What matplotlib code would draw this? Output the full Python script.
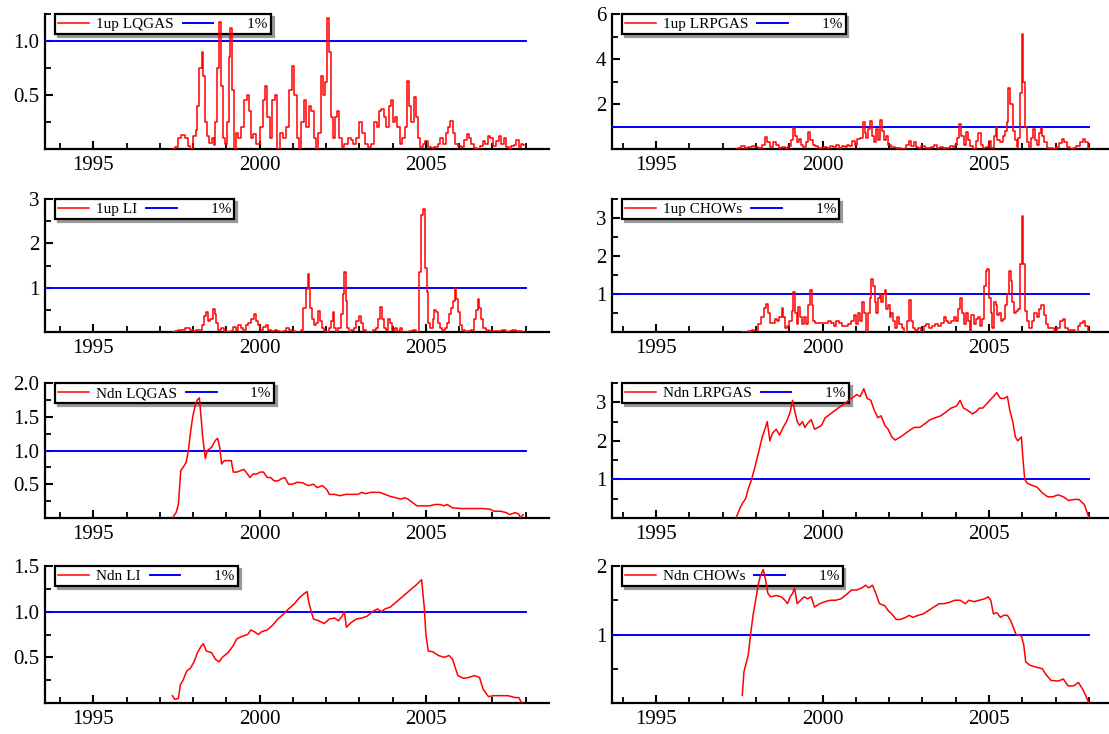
import matplotlib
matplotlib.use("Agg")
import matplotlib.pyplot as plt
from matplotlib.ticker import FixedLocator, FormatStrFormatter

plt.rcParams['font.family'] = ['Liberation Serif', 'DejaVu Serif']

# ---------------- data ----------------
crit_level = 1.0
crit_start, crit_end = 1993.5, 2008.0
x_major = [1995, 2000, 2005]
x_minor = list(range(1994, 2009))

# 1up LQGAS
t_1up_lqgas = [1997.40, 1997.50, 1997.60, 1997.70, 1997.80, 1997.87, 1997.95, 1998.05, 1998.10, 1998.15,
               1998.23, 1998.28, 1998.33, 1998.38, 1998.45, 1998.52, 1998.60, 1998.65, 1998.70, 1998.75,
               1998.82, 1998.87, 1998.93, 1999.00, 1999.05, 1999.10, 1999.15, 1999.20, 1999.25, 1999.33,
               1999.40, 1999.50, 1999.57, 1999.65, 1999.70, 1999.77, 1999.85, 1999.95, 2000.05, 2000.13,
               2000.20, 2000.27, 2000.35, 2000.42, 2000.50, 2000.57, 2000.65, 2000.75, 2000.83, 2000.93,
               2001.00, 2001.07, 2001.15, 2001.20, 2001.30, 2001.37, 2001.45, 2001.52, 2001.60, 2001.67,
               2001.73, 2001.80, 2001.87, 2001.93, 2002.00, 2002.05, 2002.11, 2002.17, 2002.23, 2002.30,
               2002.37, 2002.43, 2002.50, 2002.60, 2002.70, 2002.77, 2002.85, 2002.95, 2003.05, 2003.13,
               2003.20, 2003.30, 2003.40, 2003.48, 2003.55, 2003.63, 2003.70, 2003.77, 2003.85, 2003.93,
               2004.00, 2004.05, 2004.10, 2004.17, 2004.25, 2004.33, 2004.40, 2004.47, 2004.53, 2004.60,
               2004.67, 2004.73, 2004.80, 2004.87, 2004.95, 2005.02, 2005.10, 2005.20, 2005.30, 2005.40,
               2005.47, 2005.55, 2005.63, 2005.70, 2005.77, 2005.83, 2005.90, 2006.00, 2006.10, 2006.20,
               2006.25, 2006.33, 2006.40, 2006.50, 2006.60, 2006.67, 2006.75, 2006.83, 2006.90, 2006.97,
               2007.05, 2007.15, 2007.23, 2007.30, 2007.37, 2007.45, 2007.53, 2007.60, 2007.67, 2007.75,
               2007.83, 2007.90, 2007.95]
v_1up_lqgas = [0.0, 0.02, 0.1, 0.13, 0.1, 0.03, 0.0, 0.12, 0.18, 0.4,
               0.75, 0.9, 0.68, 0.25, 0.12, 0.06, 0.1, 0.04, 0.25, 0.75,
               1.18, 0.58, 0.1, 0.05, 0.25, 0.85, 1.12, 0.55, 0.0, 0.15,
               0.1, 0.2, 0.45, 0.5, 0.35, 0.1, 0.14, 0.05, 0.2, 0.45,
               0.58, 0.3, 0.1, 0.45, 0.5, 0.0, 0.15, 0.1, 0.2, 0.55,
               0.77, 0.5, 0.1, 0.0, 0.25, 0.45, 0.2, 0.4, 0.35, 0.1,
               0.0, 0.15, 0.68, 0.5, 0.62, 1.21, 0.9, 0.3, 0.1, 0.3,
               0.35, 0.1, 0.02, 0.05, 0.1, 0.08, 0.05, 0.1, 0.25, 0.15,
               0.05, 0.02, 0.05, 0.25, 0.2, 0.35, 0.37, 0.3, 0.2, 0.4,
               0.45, 0.25, 0.3, 0.2, 0.05, 0.1, 0.2, 0.63, 0.4, 0.25,
               0.48, 0.3, 0.1, 0.02, 0.05, 0.07, 0.02, 0.01, 0.02, 0.05,
               0.1, 0.05, 0.15, 0.2, 0.26, 0.15, 0.05, 0.03, 0.02, 0.08,
               0.14, 0.1, 0.05, 0.01, 0.0, 0.03, 0.07, 0.05, 0.12, 0.1,
               0.03, 0.07, 0.12, 0.05, 0.1, 0.02, 0.0, 0.03, 0.04, 0.08,
               0.02, 0.05, 0.04]

# 1up LRPGAS
t_1up_lrpgas = [1997.42, 1997.52, 1997.60, 1997.72, 1997.82, 1997.92, 1998.02, 1998.12, 1998.22, 1998.32,
                1998.37, 1998.47, 1998.57, 1998.64, 1998.72, 1998.82, 1998.92, 1999.02, 1999.10, 1999.15,
                1999.20, 1999.27, 1999.32, 1999.37, 1999.47, 1999.54, 1999.60, 1999.67, 1999.74, 1999.82,
                1999.90, 2000.00, 2000.07, 2000.17, 2000.27, 2000.37, 2000.44, 2000.52, 2000.62, 2000.70,
                2000.77, 2000.84, 2000.92, 2001.00, 2001.07, 2001.17, 2001.24, 2001.29, 2001.34, 2001.40,
                2001.47, 2001.52, 2001.57, 2001.64, 2001.70, 2001.76, 2001.82, 2001.88, 2001.94, 2002.02,
                2002.12, 2002.22, 2002.32, 2002.42, 2002.57, 2002.62, 2002.70, 2002.77, 2002.84, 2002.92,
                2003.02, 2003.12, 2003.22, 2003.32, 2003.40, 2003.47, 2003.57, 2003.67, 2003.77, 2003.87,
                2003.95, 2004.02, 2004.08, 2004.14, 2004.20, 2004.27, 2004.34, 2004.40, 2004.47, 2004.57,
                2004.64, 2004.72, 2004.79, 2004.87, 2004.97, 2005.04, 2005.10, 2005.17, 2005.22, 2005.28,
                2005.37, 2005.44, 2005.50, 2005.55, 2005.60, 2005.65, 2005.70, 2005.74, 2005.80, 2005.85,
                2005.90, 2005.95, 2006.00, 2006.05, 2006.10, 2006.17, 2006.22, 2006.30, 2006.34, 2006.40,
                2006.47, 2006.52, 2006.57, 2006.62, 2006.70, 2006.77, 2006.87, 2006.97, 2007.07, 2007.14,
                2007.22, 2007.30, 2007.37, 2007.47, 2007.57, 2007.67, 2007.77, 2007.84, 2007.92, 2008.00]
v_1up_lrpgas = [0.0, 0.05, 0.15, 0.05, 0.1, 0.15, 0.1, 0.05, 0.2, 0.55,
                0.3, 0.1, 0.33, 0.2, 0.05, 0.1, 0.05, 0.15, 0.4, 0.95,
                0.6, 0.3, 0.45, 0.2, 0.1, 0.3, 0.77, 0.4, 0.2, 0.15,
                0.05, 0.05, 0.1, 0.05, 0.15, 0.1, 0.2, 0.05, 0.15, 0.1,
                0.2, 0.15, 0.35, 0.2, 0.45, 0.5, 1.2, 0.7, 0.5, 0.9,
                1.25, 0.6, 0.3, 0.9, 0.4, 1.3, 0.8, 0.4, 0.6, 0.2,
                0.1, 0.05, 0.05, 0.02, 0.2, 0.35, 0.15, 0.3, 0.1, 0.05,
                0.15, 0.05, 0.03, 0.1, 0.2, 0.05, 0.1, 0.05, 0.03, 0.15,
                0.1, 0.2, 0.5, 1.1, 0.6, 0.2, 0.77, 0.4, 0.15, 0.02,
                0.35, 0.7, 0.2, 0.05, 0.1, 0.35, 0.05, 0.6, 1.0, 0.4,
                0.3, 0.6, 0.8, 1.2, 2.7, 2.0, 2.0, 0.8, 0.4, 0.1,
                0.5, 2.5, 5.1, 3.0, 1.0, 0.3, 0.1, 0.5, 0.9, 0.4,
                0.2, 0.7, 0.95, 0.6, 0.3, 0.05, 0.05, 0.02, 0.1, 0.25,
                0.45, 0.3, 0.1, 0.02, 0.05, 0.15, 0.3, 0.45, 0.3, 0.05]

# 1up LI
t_1up_li = [1997.40, 1997.50, 1997.60, 1997.70, 1997.80, 1997.87, 1997.95, 1998.05, 1998.15, 1998.25,
            1998.30, 1998.37, 1998.43, 1998.48, 1998.55, 1998.62, 1998.68, 1998.73, 1998.80, 1998.90,
            1998.97, 1999.05, 1999.15, 1999.25, 1999.33, 1999.40, 1999.47, 1999.55, 1999.63, 1999.70,
            1999.80, 1999.87, 1999.93, 2000.00, 2000.05, 2000.15, 2000.23, 2000.30, 2000.40, 2000.50,
            2000.57, 2000.65, 2000.75, 2000.85, 2000.93, 2001.00, 2001.10, 2001.20, 2001.27, 2001.33,
            2001.38, 2001.43, 2001.47, 2001.51, 2001.55, 2001.60, 2001.67, 2001.73, 2001.80, 2001.85,
            2001.92, 2001.98, 2002.05, 2002.12, 2002.17, 2002.23, 2002.27, 2002.32, 2002.40, 2002.47,
            2002.53, 2002.57, 2002.61, 2002.65, 2002.72, 2002.80, 2002.87, 2002.95, 2003.01, 2003.07,
            2003.15, 2003.25, 2003.35, 2003.45, 2003.53, 2003.60, 2003.65, 2003.70, 2003.77, 2003.83,
            2003.90, 2003.95, 2004.02, 2004.10, 2004.17, 2004.25, 2004.33, 2004.45, 2004.55, 2004.65,
            2004.73, 2004.83, 2004.88, 2004.95, 2005.00, 2005.05, 2005.10, 2005.17, 2005.23, 2005.27,
            2005.33, 2005.40, 2005.45, 2005.53, 2005.60, 2005.67, 2005.73, 2005.80, 2005.85, 2005.89,
            2005.93, 2005.98, 2006.05, 2006.12, 2006.20, 2006.30, 2006.40, 2006.47, 2006.53, 2006.58,
            2006.63, 2006.68, 2006.75, 2006.85, 2006.95, 2007.05, 2007.15, 2007.25, 2007.35, 2007.45,
            2007.55, 2007.65, 2007.75, 2007.85, 2007.95]
v_1up_li = [0.0, 0.02, 0.05, 0.05, 0.08, 0.1, 0.05, 0.02, 0.05, 0.05,
            0.15, 0.35, 0.44, 0.25, 0.3, 0.52, 0.4, 0.2, 0.05, 0.1,
            0.02, 0.0, 0.02, 0.12, 0.05, 0.15, 0.1, 0.05, 0.15, 0.2,
            0.3, 0.4, 0.25, 0.15, 0.05, 0.12, 0.15, 0.05, 0.02, 0.05,
            0.02, 0.0, 0.02, 0.1, 0.05, 0.02, 0.0, 0.01, 0.05, 0.55,
            0.55, 0.98, 1.3, 1.0, 0.55, 0.3, 0.15, 0.2, 0.48, 0.25,
            0.1, 0.02, 0.0, 0.1, 0.25, 0.45, 0.1, 0.0, 0.1, 0.4,
            0.85, 1.35, 0.7, 0.1, 0.0, 0.05, 0.1, 0.25, 0.36, 0.2,
            0.05, 0.01, 0.0, 0.05, 0.1, 0.3, 0.56, 0.3, 0.1, 0.05,
            0.3, 0.2, 0.05, 0.1, 0.02, 0.1, 0.0, 0.0, 0.02, 0.05,
            0.0, 1.35, 2.65, 2.78, 1.45, 0.9, 0.2, 0.1, 0.3, 0.5,
            0.45, 0.2, 0.1, 0.05, 0.1, 0.2, 0.4, 0.55, 0.7, 1.0,
            0.75, 0.45, 0.15, 0.05, 0.0, 0.02, 0.05, 0.3, 0.5, 0.74,
            0.55, 0.3, 0.1, 0.05, 0.02, 0.02, 0.02, 0.03, 0.05, 0.0,
            0.02, 0.05, 0.03, 0.02, 0.0]

# 1up CHOWs
t_1up_chows = [1997.57, 1997.72, 1997.82, 1997.92, 1998.02, 1998.12, 1998.20, 1998.27, 1998.32, 1998.38,
               1998.44, 1998.52, 1998.60, 1998.67, 1998.74, 1998.80, 1998.85, 1998.90, 1998.97, 1999.04,
               1999.10, 1999.15, 1999.20, 1999.25, 1999.30, 1999.35, 1999.40, 1999.47, 1999.54, 1999.60,
               1999.65, 1999.70, 1999.75, 1999.82, 1999.92, 2000.02, 2000.12, 2000.22, 2000.30, 2000.37,
               2000.44, 2000.52, 2000.62, 2000.72, 2000.82, 2000.90, 2000.97, 2001.02, 2001.10, 2001.17,
               2001.22, 2001.27, 2001.32, 2001.39, 2001.44, 2001.49, 2001.54, 2001.59, 2001.64, 2001.69,
               2001.74, 2001.79, 2001.84, 2001.89, 2001.94, 2001.99, 2002.04, 2002.09, 2002.14, 2002.19,
               2002.27, 2002.34, 2002.42, 2002.50, 2002.57, 2002.62, 2002.67, 2002.74, 2002.82, 2002.92,
               2003.00, 2003.07, 2003.17, 2003.24, 2003.32, 2003.42, 2003.52, 2003.60, 2003.67, 2003.74,
               2003.82, 2003.90, 2003.97, 2004.04, 2004.10, 2004.16, 2004.22, 2004.27, 2004.34, 2004.40,
               2004.44, 2004.50, 2004.57, 2004.62, 2004.70, 2004.77, 2004.82, 2004.87, 2004.92, 2004.97,
               2005.02, 2005.07, 2005.12, 2005.17, 2005.22, 2005.27, 2005.32, 2005.37, 2005.44, 2005.50,
               2005.57, 2005.62, 2005.67, 2005.72, 2005.77, 2005.82, 2005.89, 2005.95, 2006.00, 2006.05,
               2006.10, 2006.17, 2006.24, 2006.32, 2006.39, 2006.47, 2006.54, 2006.60, 2006.67, 2006.74,
               2006.82, 2006.92, 2007.00, 2007.07, 2007.17, 2007.24, 2007.32, 2007.42, 2007.52, 2007.62,
               2007.70, 2007.77, 2007.84, 2007.92, 2008.00]
v_1up_chows = [0.0, 0.0, 0.03, 0.05, 0.05, 0.2, 0.4, 0.63, 0.75, 0.5,
               0.25, 0.25, 0.35, 0.3, 0.4, 0.62, 0.4, 0.1, 0.15, 0.3,
               0.55, 1.05, 0.5, 0.2, 0.65, 0.4, 0.2, 0.4, 0.2, 0.7,
               1.1, 0.7, 0.3, 0.25, 0.25, 0.25, 0.25, 0.3, 0.25, 0.15,
               0.3, 0.25, 0.15, 0.15, 0.2, 0.3, 0.45, 0.2, 0.5, 0.3,
               0.8, 0.5, 0.0, 0.5, 0.9, 1.4, 1.2, 0.8, 0.5, 0.9,
               1.0, 0.8, 1.0, 1.1, 0.6, 0.7, 0.4, 0.5, 0.3, 0.1,
               0.4, 0.2, 0.1, 0.0, 0.3, 0.85, 0.3, 0.1, 0.05, 0.1,
               0.0, 0.15, 0.2, 0.1, 0.15, 0.2, 0.15, 0.25, 0.4, 0.3,
               0.25, 0.3, 0.4, 0.3, 0.6, 0.9, 0.5, 0.2, 0.5, 0.3,
               0.0, 0.45, 0.2, 0.35, 0.4, 0.15, 0.35, 1.2, 1.6, 1.65,
               0.9, 0.5, 0.1, 0.8, 0.7, 0.45, 0.5, 0.3, 0.35, 0.7,
               1.0, 1.6, 1.35, 0.8, 0.5, 0.55, 0.6, 1.8, 3.05, 1.8,
               0.55, 0.3, 0.1, 0.3, 0.5, 0.4, 0.6, 0.7, 0.45, 0.2,
               0.1, 0.1, 0.05, 0.1, 0.3, 0.35, 0.1, 0.05, 0.05, 0.0,
               0.15, 0.25, 0.3, 0.15, 0.0]

# Ndn LQGAS
t_ndn_lqgas = [1997.38, 1997.49, 1997.56, 1997.63, 1997.70, 1997.79, 1997.86, 1997.92, 1997.99, 1998.08,
               1998.13, 1998.19, 1998.24, 1998.29, 1998.37, 1998.43, 1998.56, 1998.67, 1998.74, 1998.80,
               1998.86, 1998.94, 1999.05, 1999.15, 1999.21, 1999.31, 1999.42, 1999.53, 1999.64, 1999.71,
               1999.80, 1999.91, 2000.01, 2000.12, 2000.23, 2000.33, 2000.44, 2000.55, 2000.65, 2000.76,
               2000.87, 2000.98, 2001.14, 2001.30, 2001.46, 2001.62, 2001.73, 2001.89, 2002.02, 2002.10,
               2002.26, 2002.42, 2002.59, 2002.80, 2002.96, 2003.07, 2003.18, 2003.34, 2003.61, 2003.77,
               2003.93, 2004.09, 2004.25, 2004.36, 2004.46, 2004.62, 2004.73, 2004.95, 2005.11, 2005.27,
               2005.43, 2005.54, 2005.64, 2005.80, 2006.07, 2006.39, 2006.72, 2006.93, 2007.04, 2007.25,
               2007.41, 2007.52, 2007.68, 2007.79, 2007.84, 2007.92]
v_ndn_lqgas = [0.0, 0.08, 0.2, 0.7, 0.75, 0.82, 1.0, 1.25, 1.5, 1.7,
               1.75, 1.78, 1.5, 1.2, 0.88, 1.0, 1.05, 1.15, 1.18, 1.05,
               0.8, 0.85, 0.85, 0.85, 0.68, 0.68, 0.7, 0.72, 0.65, 0.6,
               0.65, 0.65, 0.68, 0.68, 0.6, 0.6, 0.55, 0.55, 0.58, 0.6,
               0.5, 0.5, 0.53, 0.52, 0.48, 0.5, 0.45, 0.48, 0.42, 0.35,
               0.35, 0.33, 0.35, 0.35, 0.35, 0.38, 0.36, 0.38, 0.38, 0.35,
               0.32, 0.3, 0.28, 0.3, 0.28, 0.22, 0.18, 0.18, 0.18, 0.2,
               0.2, 0.18, 0.2, 0.15, 0.14, 0.14, 0.14, 0.13, 0.1, 0.1,
               0.08, 0.05, 0.08, 0.06, 0.0, 0.05]

# Ndn LRPGAS
t_ndn_lrpgas = [1997.40, 1997.45, 1997.52, 1997.61, 1997.69, 1997.77, 1997.87, 1997.98, 1998.08, 1998.19,
                1998.27, 1998.34, 1998.42, 1998.50, 1998.61, 1998.71, 1998.82, 1998.92, 1999.03, 1999.10,
                1999.16, 1999.24, 1999.31, 1999.40, 1999.47, 1999.55, 1999.66, 1999.76, 1999.87, 1999.97,
                2000.08, 2000.24, 2000.39, 2000.55, 2000.71, 2000.87, 2001.03, 2001.13, 2001.24, 2001.34,
                2001.45, 2001.55, 2001.66, 2001.76, 2001.87, 2001.97, 2002.08, 2002.18, 2002.34, 2002.50,
                2002.66, 2002.76, 2002.92, 2003.08, 2003.23, 2003.39, 2003.55, 2003.71, 2003.86, 2004.02,
                2004.13, 2004.23, 2004.34, 2004.50, 2004.60, 2004.71, 2004.81, 2004.92, 2005.02, 2005.13,
                2005.23, 2005.34, 2005.44, 2005.55, 2005.62, 2005.71, 2005.79, 2005.86, 2005.97, 2006.02,
                2006.07, 2006.15, 2006.28, 2006.44, 2006.60, 2006.76, 2006.91, 2007.07, 2007.23, 2007.39,
                2007.54, 2007.70, 2007.86, 2008.00]
v_ndn_lrpgas = [0.0, 0.1, 0.25, 0.4, 0.5, 0.75, 1.0, 1.35, 1.7, 2.1,
                2.3, 2.5, 2.0, 2.2, 2.3, 2.15, 2.35, 2.5, 2.75, 3.05,
                2.8, 2.5, 2.4, 2.5, 2.35, 2.45, 2.55, 2.3, 2.35, 2.4,
                2.6, 2.7, 2.8, 2.9, 3.0, 3.1, 3.2, 3.15, 3.35, 3.1,
                3.05, 2.8, 2.6, 2.65, 2.4, 2.3, 2.1, 2.02, 2.1, 2.2,
                2.3, 2.35, 2.35, 2.45, 2.55, 2.6, 2.65, 2.75, 2.85, 2.9,
                3.05, 2.85, 2.8, 2.7, 2.75, 2.85, 2.85, 2.95, 3.05, 3.15,
                3.25, 3.1, 3.1, 3.15, 2.8, 2.5, 2.1, 2.0, 2.1, 1.5,
                1.0, 0.9, 0.85, 0.8, 0.65, 0.55, 0.55, 0.6, 0.55, 0.45,
                0.48, 0.48, 0.35, 0.0]

# Ndn LI
t_ndn_li = [1997.38, 1997.45, 1997.56, 1997.62, 1997.70, 1997.81, 1997.92, 1998.03, 1998.13, 1998.24,
            1998.31, 1998.40, 1998.56, 1998.67, 1998.78, 1998.88, 1999.05, 1999.21, 1999.31, 1999.47,
            1999.64, 1999.74, 1999.85, 1999.96, 2000.06, 2000.23, 2000.39, 2000.55, 2000.71, 2000.87,
            2001.03, 2001.19, 2001.35, 2001.43, 2001.48, 2001.57, 2001.62, 2001.78, 2001.94, 2002.10,
            2002.26, 2002.37, 2002.48, 2002.55, 2002.61, 2002.75, 2002.91, 2003.07, 2003.23, 2003.39,
            2003.55, 2003.66, 2003.77, 2003.93, 2004.09, 2004.25, 2004.41, 2004.57, 2004.73, 2004.87,
            2004.95, 2005.00, 2005.07, 2005.21, 2005.38, 2005.54, 2005.70, 2005.80, 2005.96, 2006.13,
            2006.29, 2006.45, 2006.61, 2006.72, 2006.88, 2007.04, 2007.25, 2007.47, 2007.68, 2007.79,
            2007.88]
v_ndn_li = [0.08, 0.04, 0.05, 0.2, 0.25, 0.35, 0.38, 0.45, 0.55, 0.62,
            0.65, 0.57, 0.55, 0.48, 0.45, 0.5, 0.55, 0.63, 0.7, 0.73,
            0.75, 0.8, 0.78, 0.75, 0.78, 0.8, 0.85, 0.92, 0.97, 1.03,
            1.08, 1.15, 1.2, 1.22, 1.1, 0.98, 0.92, 0.9, 0.87, 0.92,
            0.93, 0.9, 0.95, 1.0, 0.83, 0.88, 0.92, 0.93, 0.95, 1.0,
            1.03, 1.0, 1.03, 1.05, 1.1, 1.15, 1.2, 1.25, 1.3, 1.35,
            1.05, 0.75, 0.57, 0.56, 0.52, 0.5, 0.52, 0.48, 0.3, 0.27,
            0.28, 0.3, 0.28, 0.15, 0.07, 0.08, 0.08, 0.08, 0.06, 0.06,
            0.0]

# Ndn CHOWs
t_ndn_chows = [1997.59, 1997.64, 1997.69, 1997.77, 1997.84, 1997.92, 1998.01, 1998.08, 1998.13, 1998.22,
               1998.29, 1998.36, 1998.45, 1998.61, 1998.76, 1998.87, 1998.95, 1999.03, 1999.10, 1999.16,
               1999.24, 1999.34, 1999.45, 1999.55, 1999.66, 1999.76, 1999.92, 2000.08, 2000.24, 2000.39,
               2000.55, 2000.71, 2000.87, 2001.03, 2001.18, 2001.29, 2001.39, 2001.50, 2001.60, 2001.71,
               2001.87, 2001.97, 2002.08, 2002.21, 2002.34, 2002.50, 2002.60, 2002.71, 2002.87, 2003.02,
               2003.18, 2003.34, 2003.50, 2003.65, 2003.81, 2003.97, 2004.13, 2004.29, 2004.39, 2004.55,
               2004.71, 2004.86, 2004.97, 2005.05, 2005.13, 2005.23, 2005.34, 2005.44, 2005.55, 2005.65,
               2005.81, 2005.97, 2006.04, 2006.10, 2006.23, 2006.44, 2006.60, 2006.70, 2006.86, 2007.07,
               2007.23, 2007.37, 2007.54, 2007.68, 2007.81, 2007.91, 2007.99]
v_ndn_chows = [0.11, 0.45, 0.55, 0.7, 1.0, 1.3, 1.55, 1.75, 1.85, 1.95,
               1.8, 1.6, 1.55, 1.57, 1.55, 1.5, 1.45, 1.55, 1.6, 1.68,
               1.45, 1.5, 1.55, 1.52, 1.55, 1.4, 1.45, 1.48, 1.5, 1.5,
               1.52, 1.58, 1.65, 1.65, 1.68, 1.72, 1.68, 1.72, 1.6, 1.45,
               1.42, 1.35, 1.3, 1.22, 1.22, 1.25, 1.28, 1.25, 1.28, 1.3,
               1.35, 1.4, 1.45, 1.45, 1.47, 1.5, 1.5, 1.45, 1.5, 1.48,
               1.5, 1.52, 1.55, 1.5, 1.3, 1.32, 1.25, 1.28, 1.28, 1.2,
               1.0, 0.98, 0.85, 0.6, 0.55, 0.52, 0.5, 0.42, 0.33, 0.32,
               0.35, 0.25, 0.25, 0.3, 0.2, 0.1, 0.0]

labels = ["1up LQGAS", "1up LRPGAS", "1up LI", "1up CHOWs",
          "Ndn LQGAS", "Ndn LRPGAS", "Ndn LI", "Ndn CHOWs"]
series_t = [t_1up_lqgas, t_1up_lrpgas, t_1up_li, t_1up_chows,
            t_ndn_lqgas, t_ndn_lrpgas, t_ndn_li, t_ndn_chows]
series_v = [v_1up_lqgas, v_1up_lrpgas, v_1up_li, v_1up_chows,
            v_ndn_lqgas, v_ndn_lrpgas, v_ndn_li, v_ndn_chows]
y_tops = [1.25, 6, 3, 3.5, 2.0, 3.5, 1.5, 2]
y_major = [[0.5, 1.0], [2, 4, 6], [1, 2, 3], [1, 2, 3],
           [0.5, 1.0, 1.5, 2.0], [1, 2, 3], [0.5, 1.0, 1.5], [1, 2]]
y_minor = [[0.25, 0.75, 1.25], [1, 3, 5], [0.5, 1.5, 2.5], [0.5, 1.5, 2.5, 3.5],
           [0.25, 0.75, 1.25, 1.75], [0.5, 1.5, 2.5, 3.5], [0.25, 0.75, 1.25], [0.5, 1.5]]
y_fmt = ["%.1f", "%g", "%g", "%g", "%.1f", "%g", "%.1f", "%g"]

# ---------------- layout ----------------
W, H = 1109, 734
fig = plt.figure(figsize=(W / 100, H / 100), dpi=100)
cols = [(45, 549, (1993.55, 2008.7)), (612, 1109, (1993.68, 2008.6))]
rows = [(14, 149), (199, 332), (383, 518), (566, 703)]

for i in range(8):
    r, c = divmod(i, 2)
    left, right, xl = cols[c]
    top, bot = rows[r]
    ax = fig.add_axes([left / W, 1 - bot / H, (right - left) / W, (bot - top) / H])
    ax.plot([crit_start, crit_end], [crit_level, crit_level], color='#0000FF', lw=1.4,
            label='       1%', zorder=3)
    ds = 'steps-mid' if i < 4 else 'default'
    ax.plot(series_t[i], series_v[i], color='#FF0000', lw=1.1, label=labels[i],
            zorder=4, drawstyle=ds)
    ax.set_xlim(*xl)
    ax.set_ylim(0, y_tops[i])
    for s in ['top', 'right']:
        ax.spines[s].set_visible(False)
    for s in ['left', 'bottom']:
        ax.spines[s].set_linewidth(1.6)
    ax.xaxis.set_major_locator(FixedLocator(x_major))
    ax.xaxis.set_minor_locator(FixedLocator(x_minor))
    ax.yaxis.set_major_locator(FixedLocator(y_major[i]))
    ax.yaxis.set_minor_locator(FixedLocator(y_minor[i]))
    ax.yaxis.set_major_formatter(FormatStrFormatter(y_fmt[i]))
    ax.tick_params(which='major', direction='in', length=6, width=1.5, labelsize=15, pad=4)
    ax.tick_params(which='minor', direction='in', length=4, width=1.3)
    ax.tick_params(axis='x', which='major', pad=5)
    handles, labs = ax.get_legend_handles_labels()
    leg = ax.legend(handles[::-1], labs[::-1], ncol=2, loc='upper left',
                    bbox_to_anchor=(10 / (right - left), 1.0), borderaxespad=0,
                    fontsize=11, handlelength=2.0, handletextpad=0.45, columnspacing=0.6,
                    borderpad=0.22, fancybox=False, frameon=True, framealpha=1,
                    edgecolor='black', shadow={'color': '0.6', 'alpha': 1})
    leg.get_frame().set_linewidth(1.6)
    leg.set_zorder(2)

fig.savefig("out.png", dpi=100)
